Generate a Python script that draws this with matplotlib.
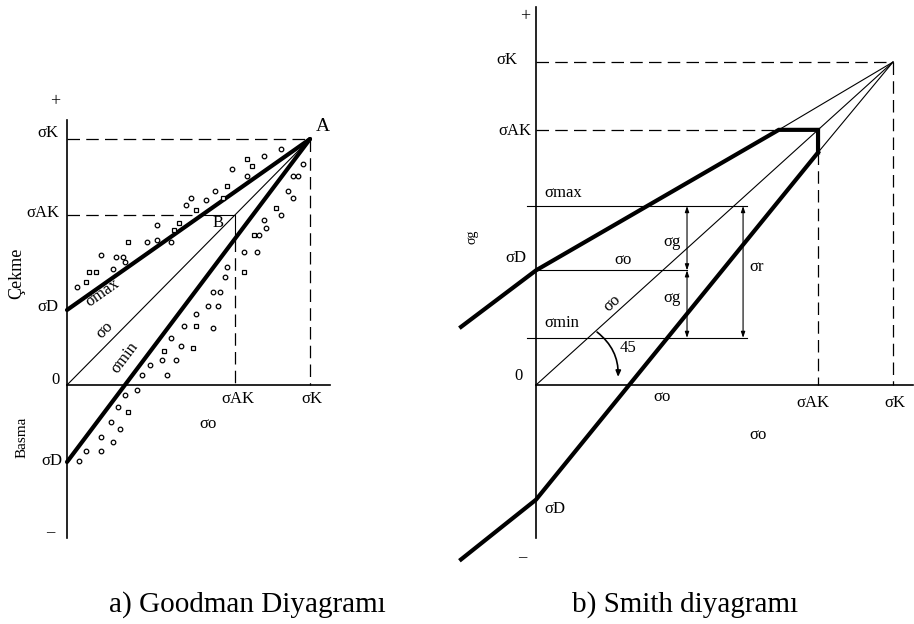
import numpy as np
import matplotlib.pyplot as plt

plt.rcParams['font.family'] = ['Liberation Serif', 'DejaVu Serif']

# ---- Goodman diagram values (sigma_K = 1) ----
g_sD = 0.305          # sigma_D on tension side
g_sD_neg = -0.313     # sigma_D on compression side
g_sAK = 0.69          # sigma_AK
g_circ_x = [0.04, 0.14, 0.19, 0.20, 0.23, 0.24, 0.33, 0.37, 0.37, 0.43, 0.49, 0.51,
            0.57, 0.61, 0.68, 0.74, 0.81, 0.88,
            0.97, 0.93, 0.95, 0.91, 0.93, 0.88, 0.81, 0.82, 0.79, 0.73, 0.78, 0.66,
            0.65, 0.60, 0.63, 0.53, 0.58, 0.62, 0.48, 0.60, 0.43, 0.47, 0.39, 0.45,
            0.34, 0.31, 0.41, 0.29, 0.24, 0.21, 0.18, 0.22, 0.14, 0.19, 0.08, 0.14, 0.05]
g_circ_y = [0.40, 0.53, 0.47, 0.52, 0.52, 0.50, 0.58, 0.59, 0.65, 0.58, 0.73, 0.76,
            0.75, 0.79, 0.88, 0.85, 0.93, 0.96,
            0.90, 0.85, 0.85, 0.79, 0.76, 0.69, 0.67, 0.64, 0.61, 0.54, 0.54, 0.48,
            0.44, 0.38, 0.38, 0.29, 0.32, 0.32, 0.24, 0.23, 0.19, 0.16, 0.10, 0.10,
            0.08, 0.04, 0.04, -0.02, -0.04, -0.09, -0.15, -0.18, -0.21, -0.23, -0.27, -0.27, -0.31]
g_sq_x = [0.08, 0.09, 0.12, 0.25, 0.44, 0.46, 0.53, 0.64, 0.66, 0.74, 0.76,
          0.86, 0.77, 0.73, 0.53, 0.52, 0.40, 0.25]
g_sq_y = [0.42, 0.46, 0.46, 0.58, 0.63, 0.66, 0.71, 0.76, 0.81, 0.92, 0.89,
          0.72, 0.61, 0.46, 0.24, 0.15, 0.14, -0.11]

# ---- Smith diagram values (sigma_K = 1) ----
s_sD = 0.355
s_sAK = 0.79
s_upper_x = [-0.21, 0.0, 0.68]
s_upper_y = [0.18, 0.355, 0.79]
s_lower_x = [-0.21, 0.0, 0.79]
s_lower_y = [-0.54, -0.355, 0.72]
s_max = 0.554
s_min = 0.146
s_g_x = 0.423
s_r_x = 0.58

THICK = 3.0
THIN = 0.8
DASH = (0, (10, 5))

fig = plt.figure(figsize=(9.14, 6.24), dpi=100)

# ================= a) Goodman =================
ax = fig.add_axes([0, 0, 0.5, 1])
ax.set_xlim(-0.2757, 1.6049)
ax.set_ylim(-0.9715, 1.5650)
ax.axis('off')

ax.plot([0, 0], [-0.622, 1.077], color='black', lw=1.2)
ax.plot([0, 1.082], [0, 0], color='black', lw=1.2)

# dashed helpers
ax.plot([0, 1], [1, 1], color='black', lw=0.9, ls=DASH)
ax.plot([1, 1], [1, 0], color='black', lw=0.9, ls=DASH)
xb = (g_sAK - g_sD) / (1 - g_sD)
ax.plot([0, xb], [g_sAK, g_sAK], color='black', lw=0.9, ls=DASH)
y_min_at_b = g_sD_neg + (1 - g_sD_neg) * g_sAK
ax.plot([g_sAK, g_sAK], [y_min_at_b, 0], color='black', lw=0.9, ls=DASH)
ax.plot([xb, g_sAK, g_sAK], [g_sAK, g_sAK, y_min_at_b], color='black', lw=THIN)

# main lines
ax.plot([0, 1], [0, 1], color='black', lw=THIN)
ax.plot([0, 1], [g_sD, 1], color='black', lw=THICK, solid_capstyle='round')
ax.plot([0, 1], [g_sD_neg, 1], color='black', lw=THICK, solid_capstyle='round')

ax.plot(g_circ_x, g_circ_y, 'o', ms=3.3, mfc='white', mec='black', mew=0.9)
ax.plot(g_sq_x, g_sq_y, 's', ms=3.0, mfc='white', mec='black', mew=0.9)

fs = 12
ax.text(-0.049, 1.150, '+', fontsize=13, ha='center', va='center')
ax.text(-0.035, 1.024, 'σK', fontsize=fs, ha='right', va='center')
ax.text(1.053, 1.049, 'A', fontsize=14, ha='center', va='center')
ax.text(-0.029, 0.699, 'σAK', fontsize=fs, ha='right', va='center')
ax.text(-0.206, 0.455, 'Çekme', fontsize=13, rotation=90, ha='center', va='center')
ax.text(-0.035, 0.317, 'σD', fontsize=fs, ha='right', va='center')
ax.text(0.148, 0.374, 'σmax', fontsize=fs, rotation=35, ha='center', va='center')
ax.text(0.156, 0.224, 'σo', fontsize=fs, rotation=45, ha='center', va='center')
ax.text(0.239, 0.110, 'σmin', fontsize=fs, rotation=53, ha='center', va='center')
ax.text(-0.049, 0.020, '0', fontsize=fs, ha='center', va='center')
ax.text(0.704, -0.057, 'σAK', fontsize=fs, ha='center', va='center')
ax.text(1.008, -0.057, 'σK', fontsize=fs, ha='center', va='center')
ax.text(0.580, -0.159, 'σo', fontsize=fs, ha='center', va='center')
ax.text(-0.185, -0.211, 'Basma', fontsize=11, rotation=90, ha='center', va='center')
ax.text(-0.021, -0.309, 'σD', fontsize=fs, ha='right', va='center')
ax.text(-0.070, -0.600, '–', fontsize=fs, ha='center', va='center')
ax.text(0.621, 0.659, 'B', fontsize=fs, ha='center', va='center')
ax.text(0.743, -0.894, 'a) Goodman Diyagramı', fontsize=21, ha='center', va='center')

# ================= b) Smith =================
bx = fig.add_axes([0.5, 0, 0.5, 1])
bx.set_xlim(-0.2213, 1.0588)
bx.set_ylim(-0.7399, 1.1920)
bx.axis('off')

bx.plot([0, 0], [-0.474, 1.170], color='black', lw=1.2)
bx.plot([0, 1.056], [0, 0], color='black', lw=1.2)

bx.plot([0, 1], [1, 1], color='black', lw=0.9, ls=DASH)
bx.plot([1, 1], [1, 0], color='black', lw=0.9, ls=DASH)
bx.plot([0, s_upper_x[-1]], [s_sAK, s_sAK], color='black', lw=0.9, ls=DASH)
bx.plot([s_sAK, s_sAK], [s_lower_y[-1], 0], color='black', lw=0.9, ls=DASH)

# thin lines to sigma_K
bx.plot([0, 1], [0, 1], color='black', lw=THIN)
bx.plot([s_upper_x[-1], 1], [s_upper_y[-1], 1], color='black', lw=THIN)
bx.plot([s_lower_x[-1], 1], [s_lower_y[-1], 1], color='black', lw=THIN)

# limit curve
bx.plot(s_upper_x + [s_sAK, s_sAK], s_upper_y + [s_sAK, s_lower_y[-1]],
        color='black', lw=THICK, solid_joinstyle='miter')
bx.plot(s_lower_x, s_lower_y, color='black', lw=THICK)

# stress level lines
bx.plot([-0.025, 0.59], [s_max, s_max], color='black', lw=THIN)
bx.plot([-0.025, 0.59], [s_min, s_min], color='black', lw=THIN)
bx.plot([0, s_g_x], [s_sD, s_sD], color='black', lw=THIN)

arr = dict(arrowstyle='<|-|>,head_length=0.35,head_width=0.12', color='black',
           lw=THIN, shrinkA=0, shrinkB=0)
bx.annotate('', xy=(s_g_x, s_max), xytext=(s_g_x, s_sD), arrowprops=arr)
bx.annotate('', xy=(s_g_x, s_sD), xytext=(s_g_x, s_min), arrowprops=arr)
bx.annotate('', xy=(s_r_x, s_max), xytext=(s_r_x, s_min), arrowprops=arr)

# 45 degree arc
bx.annotate('', xy=(0.23, 0.025), xytext=(0.171, 0.164),
            arrowprops=dict(arrowstyle='-|>,head_length=0.35,head_width=0.15',
                            color='black', lw=1.2, shrinkA=0, shrinkB=0,
                            connectionstyle='arc3,rad=-0.25'))

bx.text(-0.031, 1.142, '+', fontsize=13, ha='center', va='center')
bx.text(-0.081, 1.006, 'σK', fontsize=fs, ha='center', va='center')
bx.text(-0.012, 0.786, 'σAK', fontsize=fs, ha='right', va='center')
bx.text(0.076, 0.594, 'σmax', fontsize=fs, ha='center', va='center')
bx.text(-0.179, 0.458, 'σg', fontsize=10, rotation=90, ha='center', va='center')
bx.text(-0.056, 0.393, 'σD', fontsize=fs, ha='center', va='center')
bx.text(0.244, 0.387, 'σo', fontsize=fs, ha='center', va='center')
bx.text(0.381, 0.443, 'σg', fontsize=fs, ha='center', va='center')
bx.text(0.619, 0.365, 'σr', fontsize=fs, ha='center', va='center')
bx.text(0.381, 0.269, 'σg', fontsize=fs, ha='center', va='center')
bx.text(0.213, 0.254, 'σo', fontsize=fs, rotation=42, ha='center', va='center')
bx.text(0.073, 0.192, 'σmin', fontsize=fs, ha='center', va='center')
bx.text(0.258, 0.115, '45', fontsize=fs, ha='center', va='center')
bx.text(-0.048, 0.028, '0', fontsize=fs, ha='center', va='center')
bx.text(0.353, -0.037, 'σo', fontsize=fs, ha='center', va='center')
bx.text(0.776, -0.056, 'σAK', fontsize=fs, ha='center', va='center')
bx.text(1.006, -0.056, 'σK', fontsize=fs, ha='center', va='center')
bx.text(0.622, -0.155, 'σo', fontsize=fs, ha='center', va='center')
bx.text(0.053, -0.384, 'σD', fontsize=fs, ha='center', va='center')
bx.text(-0.039, -0.533, '–', fontsize=fs, ha='center', va='center')
bx.text(0.417, -0.681, 'b) Smith diyagramı', fontsize=21, ha='center', va='center')

fig.savefig('out.png', dpi=100)
